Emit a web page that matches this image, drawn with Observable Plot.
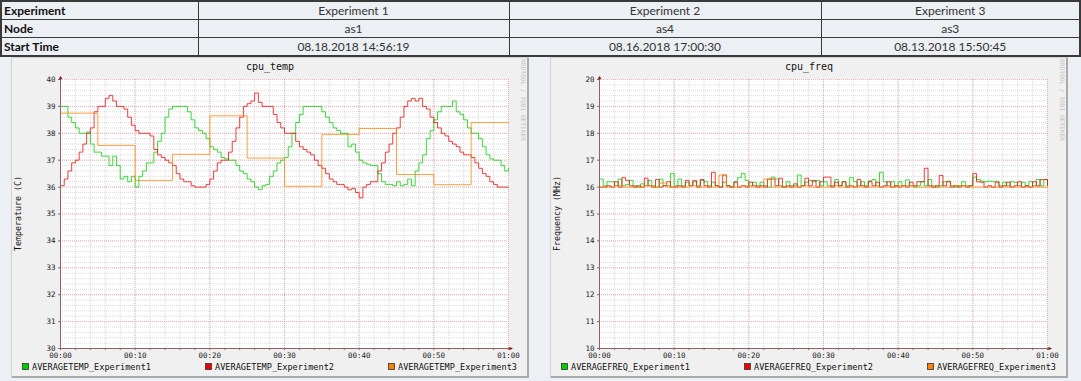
<!DOCTYPE html>
<html>
<head>
<meta charset="utf-8">
<script src="https://cdn.jsdelivr.net/npm/d3@7"></script>
<script src="https://cdn.jsdelivr.net/npm/@observablehq/plot@0.6"></script>
<style>
  html, body { margin: 0; padding: 0; }
  body { width: 1081px; height: 381px; overflow: hidden; position: relative; background: #eceff3; font-family: Lato, "Open Sans", sans-serif; }
  #info { position: absolute; left: 0; top: 0; width: 1081px; border-collapse: collapse; table-layout: fixed; font-size: 12px; color: #333; border: 2px solid #3a3a3a; }
  #info td, #info th { border: 1px solid #3a3a3a; height: 17px; line-height: 16px; padding: 0 2px; white-space: nowrap; overflow: hidden; }
  #info th { text-align: left; font-weight: bold; color: #111; }
  #info td { text-align: center; }
  .panel { position: absolute; top: 57px; width: 518px; height: 321px; background: #f0f0f0;
           box-shadow: inset 1px 1px 0 #d2d2d2, inset -2px -2px 0 #a9a9a9; }
  .panel svg { display: block; }
</style>
</head>
<body>
<table id="info">
  <colgroup><col style="width:197px"><col style="width:311px"><col style="width:312px"><col></colgroup>
  <tbody></tbody>
</table>
<div class="panel" id="p1" style="left:11px"></div>
<div class="panel" id="p2" style="left:550px"></div>
<script>
// ---------- table data ----------
const rowLabels = ["Experiment", "Node", "Start Time"];
const experiments = ["Experiment 1", "Experiment 2", "Experiment 3"];
const nodes = ["as1", "as4", "as3"];
const startTimes = ["08.18.2018 14:56:19", "08.16.2018 17:00:30", "08.13.2018 15:50:45"];

// ---------- chart data (minutes after start) ----------
const halfMinutes = d3.range(121).map(i => i / 2);
const wholeMinutes = d3.range(61);
const fiveMinutes = d3.range(0, 61, 5);

const tempExp1 = [
  39.0,39.0,38.6,38.4,38.2,38.0,38.0,38.05,37.6,37.3,
  37.3,37.15,37.15,36.8,37.15,36.8,36.3,36.4,36.2,36.4,
  36.0,36.4,36.6,36.9,36.9,37.3,37.7,38.0,38.6,38.9,
  39.0,39.0,39.0,39.0,38.8,38.5,38.2,38.1,38.0,37.8,
  37.5,37.4,37.3,37.1,37.05,37.0,37.0,36.8,36.6,36.5,
  36.3,36.2,36.0,35.9,36.05,36.1,36.4,36.6,36.9,37.0,
  37.1,37.5,38.0,38.4,38.7,39.0,39.0,39.0,39.0,39.0,
  38.8,38.6,38.4,38.2,38.1,38.0,38.0,37.5,37.6,37.3,
  37.0,36.9,36.85,36.8,36.8,36.5,36.2,36.1,36.1,36.05,
  36.2,36.05,36.1,36.3,36.05,36.6,36.9,37.2,37.8,38.1,
  38.5,38.8,39.0,39.0,39.0,39.2,38.8,38.7,38.5,38.2,
  38.0,38.0,37.8,37.5,37.2,37.05,37.0,37.0,36.8,36.6,
  36.7
];
const tempExp2 = [
  36.05,36.3,36.6,36.9,37.0,37.3,37.6,38.0,38.2,38.8,
  39.0,39.0,39.3,39.4,39.2,39.0,39.0,38.9,38.6,38.3,
  38.1,38.0,38.0,38.0,37.9,37.4,37.2,37.1,37.0,36.9,
  36.8,36.5,36.3,36.2,36.2,36.05,36.0,36.0,36.0,36.1,
  36.3,36.6,36.9,37.0,37.0,37.3,37.7,38.2,38.6,39.0,
  39.1,39.2,39.5,39.15,39.0,39.0,39.0,38.7,38.4,38.2,
  38.0,38.0,38.0,37.7,37.5,37.4,37.3,37.2,37.0,36.8,
  36.7,36.5,36.3,36.2,36.1,36.1,36.0,35.9,35.95,35.8,
  35.6,36.0,36.1,36.2,36.2,36.6,36.9,37.3,37.6,38.0,
  38.2,38.6,39.0,39.2,39.3,39.2,39.3,39.0,38.9,38.6,
  38.4,38.2,38.0,37.9,37.7,37.6,37.5,37.3,37.2,37.2,
  37.1,36.9,36.7,36.5,36.4,36.2,36.1,36.0,36.0,36.0,
  36.0
];
const tempExp3 = [38.75,37.55,36.25,37.22,38.65,37.08,36.03,37.96,38.18,36.47,36.09,38.4,38.4];

const freqExp1 = [
  16.3,16.05,16.2,16.2,16.05,16.3,16.05,16.1,16.25,16.05,
  16.0,16.12,16.05,16.25,16.05,16.0,16.3,16.05,16.05,16.5,
  16.05,16.3,16.05,16.18,16.05,16.2,16.05,16.25,16.2,16.05,
  16.18,16.05,16.0,16.18,16.05,16.0,16.2,16.35,16.5,16.25,
  16.05,16.18,16.05,16.18,16.05,16.0,16.37,16.3,16.05,16.0,
  16.2,16.05,16.05,16.45,16.05,16.18,16.25,16.2,16.25,16.05,
  16.2,16.05,16.05,16.28,16.05,16.2,16.05,16.35,16.2,16.05,
  16.2,16.05,16.23,16.28,16.05,16.55,16.2,16.05,16.2,16.05,
  16.2,16.05,16.27,16.05,16.0,16.05,16.2,16.05,16.28,16.05,
  16.0,16.05,16.2,16.22,16.05,16.0,16.05,16.2,16.05,16.05,
  16.37,16.28,16.22,16.2,16.22,16.2,16.22,16.05,16.18,16.05,
  16.2,16.18,16.05,16.18,16.05,16.2,16.05,16.28,16.05,16.28,
  16.05
];
const freqExp2 = [
  16.0,16.0,16.05,16.0,16.2,16.0,16.35,16.25,16.05,16.0,
  16.05,16.0,16.33,16.05,16.0,16.28,16.0,16.05,16.2,16.0,
  16.0,16.05,16.0,16.25,16.05,16.25,16.0,16.28,16.05,16.0,
  16.55,16.05,16.0,16.45,16.05,16.0,16.18,16.0,16.05,16.0,
  16.18,16.05,16.0,16.05,16.0,16.3,16.3,16.05,16.33,16.0,
  16.05,16.0,16.12,16.0,16.05,16.33,16.05,16.25,16.0,16.2,
  16.37,16.37,16.0,16.18,16.05,16.2,16.0,16.05,16.0,16.28,
  16.05,16.0,16.2,16.05,16.18,16.0,16.05,16.2,16.0,16.05,
  16.0,16.05,16.0,16.18,16.05,16.2,16.2,16.7,16.05,16.0,
  16.05,16.43,16.05,16.2,16.0,16.05,16.0,16.05,16.0,16.05,
  16.5,16.2,16.18,16.0,16.05,16.0,16.18,16.0,16.05,16.18,
  16.0,16.05,16.2,16.0,16.05,16.0,16.2,16.05,16.28,16.28,
  16.05
];
const freqExp3 = [
  16.0,16.0,16.05,16.0,16.0,16.0,16.05,16.0,16.15,16.0,
  16.0,16.0,16.05,16.0,16.0,16.0,16.45,16.0,16.0,16.05,
  16.0,16.0,16.3,16.0,16.0,16.0,16.0,16.05,16.0,16.0,
  16.0,16.05,16.0,16.0,16.0,16.0,16.0,16.0,16.0,16.0,
  16.05,16.05,16.0,16.0,16.0,16.0,16.0,16.05,16.05,16.0,
  16.0,16.0,16.0,16.0,16.0,16.0,16.0,16.0,16.0,16.0,
  16.0
];

const tempLegend = ["AVERAGETEMP_Experiment1", "AVERAGETEMP_Experiment2", "AVERAGETEMP_Experiment3"];
const freqLegend = ["AVERAGEFREQ_Experiment1", "AVERAGEFREQ_Experiment2", "AVERAGEFREQ_Experiment3"];
const seriesColors = ["#00cc00", "#ee0000", "#ff8000"];
const xTickMinutes = [0, 10, 20, 30, 40, 50, 60];
const watermark = "RRDTOOL / TOBI OETIKER";

// ---------- table ----------
const tbody = d3.select("#info tbody");
[experiments, nodes, startTimes].forEach((vals, r) => {
  const tr = tbody.append("tr");
  tr.append("th").text(rowLabels[r]);
  vals.forEach(v => tr.append("td").text(v));
});

// ---------- chart ----------
const mono = "'DejaVu Sans Mono', 'Liberation Mono', monospace";
const fmtTime = m => m === 60 ? "01:00" : "00:" + String(m).padStart(2, "0");

function toRows(times, values, s) {
  return times.map((t, i) => ({t, v: values[i], s}));
}

function drawPanel(el, cfg) {
  const [y0, y1] = cfg.yDomain;
  const W = 518, H = 321, mL = 49, mR = 21, mT = 22, mB = 30;
  const minorX = d3.range(0, 61, 2);
  const minorY = d3.range(0, 50).map(i => y0 + i * 0.2);
  const majorY = d3.range(y0, y1 + 1);
  const axisColor = "#8c6464";
  const lineMarks = cfg.series.map((rows, i) =>
    Plot.line(rows, {x: "t", y: "v", curve: "step-after", stroke: seriesColors[i],
                     strokeWidth: 1, strokeOpacity: 0.75}));
  const plot = Plot.plot({
    width: W, height: H,
    marginLeft: mL, marginRight: mR, marginTop: mT, marginBottom: mB,
    style: {background: "none", fontFamily: mono, fontSize: "7.5px", color: "#222", overflow: "visible"},
    x: {type: "linear", domain: [0, 60]},
    y: {type: "linear", domain: [y0, y1]},
    marks: [
      Plot.frame({fill: "white", stroke: "none"}),
      Plot.ruleX(minorX, {stroke: "#c4c4c4", strokeOpacity: 0.6, strokeDasharray: "1,1"}),
      Plot.ruleY(minorY, {stroke: "#c4c4c4", strokeOpacity: 0.6, strokeDasharray: "1,1"}),
      Plot.ruleX(xTickMinutes, {stroke: "#f07878", strokeOpacity: 0.5, strokeDasharray: "1,1"}),
      Plot.ruleY(majorY, {stroke: "#f07878", strokeOpacity: 0.5, strokeDasharray: "1,1"}),
      ...lineMarks,
      Plot.ruleY([y0], {stroke: axisColor, strokeWidth: 1}),
      Plot.ruleX([0], {stroke: axisColor, strokeWidth: 1}),
      Plot.axisX({ticks: minorX, tickSize: 2, tickFormat: () => "", stroke: axisColor, label: null}),
      Plot.axisY({ticks: majorY, tickSize: 2, tickFormat: () => "", stroke: axisColor, label: null}),
      Plot.axisX({ticks: xTickMinutes, tickSize: 0, tickPadding: 4, tickFormat: fmtTime, label: null, fill: "#222"}),
      Plot.axisY({ticks: majorY, tickSize: 0, tickPadding: 5, tickFormat: d => String(d), label: null, fill: "#222"}),
      Plot.text([{t: 60, v: y0}], {x: "t", y: "v", text: () => "\u25B6", dx: 2.5, fontSize: 6, fill: "#8b1010"}),
      Plot.text([{t: 0, v: y1}], {x: "t", y: "v", text: () => "\u25B2", dy: -2.5, fontSize: 6, fill: "#8b1010"})
    ]
  });
  el.appendChild(plot);
  const svg = d3.select(plot);
  // title
  svg.append("text").attr("x", W / 2).attr("y", 12.5).attr("text-anchor", "middle")
    .attr("font-family", mono).attr("font-size", 10).attr("fill", "#111").text(cfg.title);
  // y label
  svg.append("text").attr("transform", `translate(10,${mT + (H - mT - mB) / 2}) rotate(-90)`)
    .attr("text-anchor", "middle").attr("font-family", mono).attr("font-size", 8.3)
    .attr("fill", "#111").text(cfg.ylabel);
  // watermark
  svg.append("text").attr("transform", `translate(510,2) rotate(90)`)
    .attr("text-anchor", "start").attr("font-family", mono).attr("font-size", 6.2)
    .attr("fill", "#c4c4c4").text(watermark);
  // legend
  const legendX = [11, 194, 377];
  cfg.legend.forEach((name, i) => {
    const g = svg.append("g").attr("transform", `translate(${legendX[i]},306)`);
    g.append("rect").attr("x", 0.5).attr("y", 0.5).attr("width", 6).attr("height", 6)
      .attr("fill", seriesColors[i]).attr("stroke", "#333").attr("stroke-width", 0.8);
    g.append("text").attr("x", 10).attr("y", 6.5).attr("text-anchor", "start")
      .attr("font-family", mono).attr("font-size", 8.6).attr("fill", "#111").text(name);
  });
}

drawPanel(document.getElementById("p1"), {
  title: "cpu_temp", ylabel: "Temperature (C)", yDomain: [30, 40], legend: tempLegend,
  series: [toRows(halfMinutes, tempExp1, 0), toRows(halfMinutes, tempExp2, 1), toRows(fiveMinutes, tempExp3, 2)]
});
drawPanel(document.getElementById("p2"), {
  title: "cpu_freq", ylabel: "Frequency (MHz)", yDomain: [10, 20], legend: freqLegend,
  series: [toRows(halfMinutes, freqExp1, 0), toRows(halfMinutes, freqExp2, 1), toRows(wholeMinutes, freqExp3, 2)]
});
</script>
</body>
</html>
